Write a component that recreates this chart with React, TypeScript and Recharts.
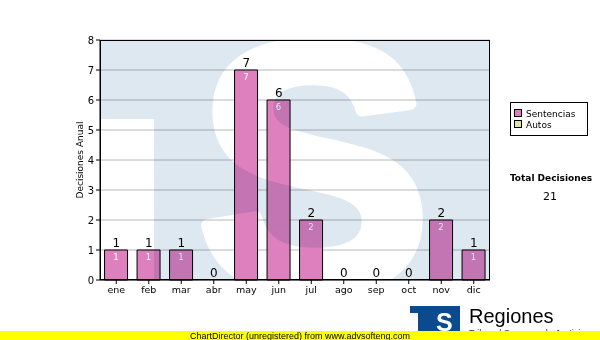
import React from 'react';
import { ComposedChart, Bar, Line, XAxis, YAxis, CartesianGrid, LabelList, Label } from 'recharts';

const months = ['ene', 'feb', 'mar', 'abr', 'may', 'jun', 'jul', 'ago', 'sep', 'oct', 'nov', 'dic'];
const sentencias = [1, 1, 1, 0, 7, 6, 2, 0, 0, 0, 2, 1];
const autos = [0, 0, 0, 0, 0, 0, 0, 0, 0, 0, 0, 0];
const yTicks = [0, 1, 2, 3, 4, 5, 6, 7, 8];
const seriesNames = ['Sentencias', 'Autos'];
const seriesColors = ['#DF80BE', '#DCE8A2'];

const data = months.map((m, i) => ({
  month: m,
  sentencias: sentencias[i],
  autos: autos[i],
  total: sentencias[i] + autos[i],
}));

const totalDecisiones = data.reduce((s, d) => s + d.total, 0);

const FONT = '"DejaVu Sans", Verdana, sans-serif';
const ARIAL = '"Liberation Sans", Arial, sans-serif';

export default function App() {
  return (
    <div style={{ position: 'absolute', left: 0, top: 0, width: 600, height: 340, background: '#fff', overflow: 'hidden' }}>
      <div style={{ position: 'absolute', left: 0, top: 0 }}>
        <ComposedChart
          width={600}
          height={340}
          data={data}
          margin={{ top: 40, right: 110, bottom: 40, left: 60 }}
          barCategoryGap="14%"
        >
          <CartesianGrid vertical={false} stroke="#b8b8b8" />
          <XAxis
            dataKey="month"
            interval={0}
            tickSize={4}
            height={20}
            axisLine={{ stroke: '#000' }}
            tickLine={{ stroke: '#000' }}
            tick={{ fill: '#000', fontSize: 9.5, fontFamily: FONT }}
          />
          <YAxis
            domain={[0, 8]}
            ticks={yTicks}
            width={40}
            tickSize={4}
            interval={0}
            axisLine={{ stroke: '#000' }}
            tickLine={{ stroke: '#000' }}
            tick={{ fill: '#000', fontSize: 10, fontFamily: FONT }}
          >
            <Label value="Decisiones Anual" angle={-90} position="center" fill="#000" fontSize={9} fontFamily={FONT} />
          </YAxis>
          <Bar dataKey="sentencias" stackId="a" fill={seriesColors[0]} stroke="#000" strokeWidth={1} isAnimationActive={false}>
            <LabelList
              dataKey="sentencias"
              position="insideTop"
              offset={4}
              fill="#fff"
              fontSize={8.5}
              fontFamily={FONT}
              formatter={(v: any) => (Number(v) === 0 ? '' : v)}
            />
          </Bar>
          <Bar dataKey="autos" stackId="a" fill={seriesColors[1]} stroke="#000" strokeWidth={1} isAnimationActive={false} />
          <Line
            dataKey="total"
            stroke="none"
            dot={false}
            activeDot={false}
            legendType="none"
            isAnimationActive={false}
          >
            <LabelList dataKey="total" position="top" offset={3} fill="#000" fontSize={12} fontFamily={FONT} />
          </Line>
        </ComposedChart>
      </div>

      {/* watermark, multiplied over the plot */}
      <svg
        width={600}
        height={340}
        style={{ position: 'absolute', left: 0, top: 0, mixBlendMode: 'multiply', pointerEvents: 'none' }}
      >
        <defs>
          <clipPath id="plotClip">
            <rect x={100} y={40} width={390} height={240} />
          </clipPath>
        </defs>
        <g clipPath="url(#plotClip)">
          <rect x={100} y={40} width={390} height={240} fill="#DEE8F1" />
          <rect x={100} y={119} width={54} height={161} fill="#fff" />
          <text
            x={197}
            y={288}
            fill="#fff"
            stroke="#fff"
            strokeWidth={12}
            strokeLinejoin="round"
            fontSize={350}
            fontWeight="bold"
            fontFamily={ARIAL}
          >
            S
          </text>
        </g>
      </svg>

      {/* frame, legend, footer */}
      <svg width={600} height={340} style={{ position: 'absolute', left: 0, top: 0, pointerEvents: 'none' }}>
        <rect x={100.5} y={40.5} width={389} height={239} fill="none" stroke="#000" strokeWidth={1} />

        <rect x={510.5} y={102.5} width={77} height={33} fill="#fff" stroke="#000" strokeWidth={1} />
        {seriesNames.map((n, i) => (
          <g key={n}>
            <rect x={514.5} y={109.5 + i * 11} width={7} height={7} fill={seriesColors[i]} stroke="#000" strokeWidth={1} />
            <text x={526} y={117 + i * 11} fontSize={9} fontFamily={FONT} fill="#000">
              {n}
            </text>
          </g>
        ))}

        <text x={551} y={181} textAnchor="middle" fontSize={9} fontWeight="bold" fontFamily={FONT} fill="#000">
          Total Decisiones
        </text>
        <text x={550} y={200} textAnchor="middle" fontSize={11} fontFamily={FONT} fill="#000">
          {totalDecisiones}
        </text>

        {/* logo */}
        <rect x={410} y={306} width={50} height={26} fill="#0C4A8E" />
        <rect x={410} y={313} width={8} height={20} fill="#fff" />
        <text x={436} y={331} fill="#fff" fontSize={25} fontWeight="bold" fontFamily={ARIAL}>
          S
        </text>
        <text x={469} y={323} fontSize={20} fontFamily={ARIAL} fill="#000">
          Regiones
        </text>
        <text x={469} y={336} fontSize={9} fontFamily={ARIAL} fill="#333">
          Tribunal Supremo de Justicia
        </text>

        <rect x={0} y={331} width={600} height={9} fill="#FFFF00" />
        <text x={190} y={339} fontSize={9.5} fontFamily={ARIAL} fill="#000" textLength={220} lengthAdjust="spacingAndGlyphs">
          ChartDirector (unregistered) from www.advsofteng.com
        </text>
      </svg>
    </div>
  );
}
